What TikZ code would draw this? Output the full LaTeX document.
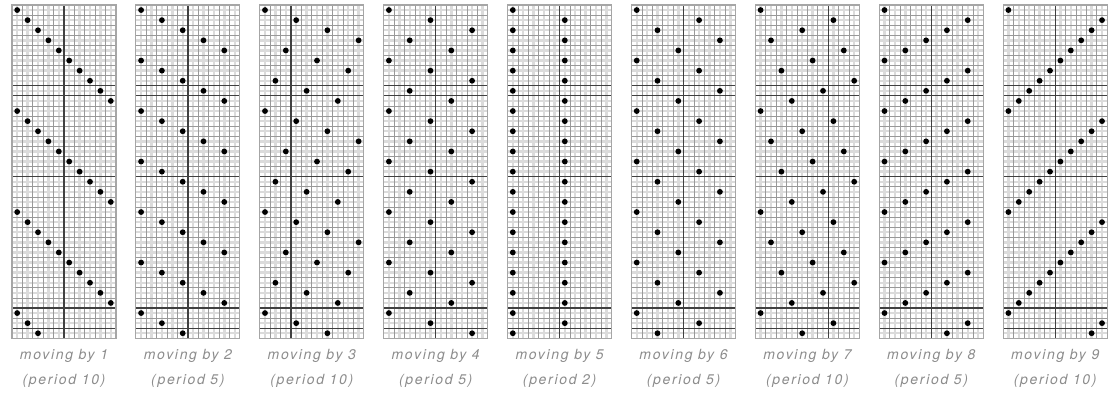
\documentclass[tikz,border=0pt]{standalone}
\usepackage{fontspec}
\setmainfont{TeX Gyre Heros}
\newfontfamily\capfont[LetterSpace=12]{TeX Gyre Heros}
\definecolor{labelgray}{HTML}{8C8C8C}
\tikzset{
  midline/.style={draw=gray!28,line width=2.4pt},
  gridline/.style={draw=gray!80,line width=0.8pt},
  thickline/.style={draw=black!75,line width=1.2pt},
  frameline/.style={draw=gray!70,line width=1.1pt},
  dotmark/.style={fill=black},
  caption/.style={font=\capfont\itshape\fontsize{14}{16}\selectfont,text=labelgray,anchor=center,inner sep=0pt}
}
\begin{document}
\begin{tikzpicture}[x=1pt,y=-1pt]
\useasboundingbox (0,0) rectangle (1110,401);
\fill[white] (0,0) rectangle (1110,401);
\def\cw{10.4}
\def\ch{10.1}
\foreach \k/\per/\vc [count=\p from 0] in {1/10/5,2/5/5,3/10/3,4/5/5,5/2/5,6/5/5,7/10/7,8/5/5,9/10/5} {
  \pgfmathsetmacro\L{12+123.9*\p}
  \begin{scope}[shift={(\L,5)}]
    \foreach \i in {0,...,9} \draw[midline] ({(\i+0.5)*\cw},0) -- ++(0,333.3);
    \foreach \j in {0,...,32} \draw[midline] (0,{(\j+0.5)*\ch}) -- ++(104,0);
    \foreach \i in {1,...,9} \draw[gridline] ({\i*\cw},0) -- ++(0,333.3);
    \foreach \j in {1,...,32} \draw[gridline] (0,{\j*\ch}) -- ++(104,0);
    \foreach \j in {8,9,17,30,32} \draw[thickline] (0,{\j*\ch}) -- ++(104,0);
    \draw[thickline] ({\vc*\cw},0) -- ++(0,333.3);
    \draw[frameline] (0,0) rectangle (104,333.3);
    \foreach \r in {0,...,32} {
      \pgfmathtruncatemacro\c{mod(\r*\k,10)}
      \fill[dotmark] ({(\c+0.5)*\cw},{(\r+0.5)*\ch}) circle (2.9);
    }
  \end{scope}
  \node[caption] (m\k) at ({\L+52},356) {moving by \k};
  \node[caption] (p\k) at ({\L+52},381) {(period \per)};
}
\end{tikzpicture}
\end{document}
